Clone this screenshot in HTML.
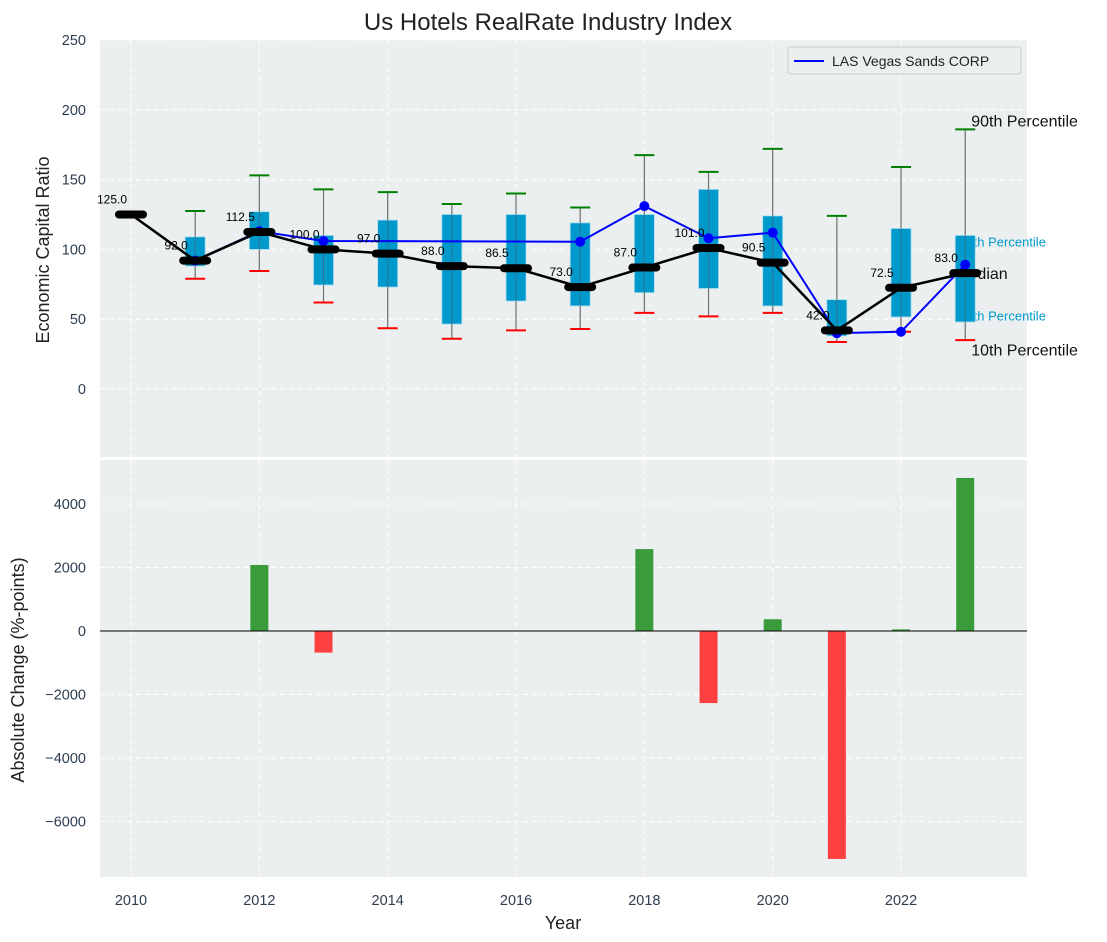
<!DOCTYPE html>
<html><head><meta charset="utf-8"><style>
body{margin:0;background:#fff;}
svg{display:block;font-family:"Liberation Sans","DejaVu Sans",sans-serif;}
</style></head><body>
<svg id="c" width="1107" height="942" xmlns="http://www.w3.org/2000/svg"></svg>
<script>
const years=[2010,2011,2012,2013,2014,2015,2016,2017,2018,2019,2020,2021,2022,2023];
const medians=[125,92,112.5,100,97,88,86.5,73,87,101,90.5,42,72.5,83];
const boxHigh=[null,109,127,110,121,125,125,119,125,143,124,64,115,110];
const boxLow=[null,88,100,74.5,73,46.5,63,59.5,69,72,59.5,38,51.6,48];
const whiskHigh=[null,127.5,153,143,141,132.5,140,130,167.5,155.5,172,124,159,186];
const whiskLow=[null,79,84.5,62,43.5,36,42,43,54.5,52,54.5,33.7,41,35];
const lvsYears=[2011,2012,2013,2017,2018,2019,2020,2021,2022,2023];
const lvsValues=[92,113,106,105.5,131,108,112,40,41,89];
const changeYears=[2012,2013,2018,2019,2020,2021,2022,2023];
const changeValues=[2080,-680,2580,-2270,370,-7180,50,4820];
const topTicks=[0,50,100,150,200,250];
const botTicks=[-6000,-4000,-2000,0,2000,4000];
const xTicks=[2010,2012,2014,2016,2018,2020,2022];

const svg=document.getElementById('c');
const NS='http://www.w3.org/2000/svg';
function el(t,a,p){const e=document.createElementNS(NS,t);for(const k in a)e.setAttribute(k,a[k]);(p||svg).appendChild(e);return e;}
const L=100,R=1027,T1=40,B1=457,T2=460,B2=877;
const X=v=>131+(v-2010)*64.17;
const Y1=v=>389-v*1.396;
const Y2=v=>631-v*0.03175;

let t=el('text',{x:548,y:30,'text-anchor':'middle','font-size':24,fill:'#222'});t.textContent='Us Hotels RealRate Industry Index';


let p1=el('rect',{x:L,y:T1,width:R-L,height:B1-T1,fill:'#ebeff0'});

let p2=el('rect',{x:L,y:T2,width:R-L,height:B2-T2,fill:'#ebeff0'});


xTicks.forEach(v=>{
  let g=el('line',{x1:X(v),x2:X(v),y1:T1,y2:B1,stroke:'#fff','stroke-dasharray':'5,4'});
  
  g=el('line',{x1:X(v),x2:X(v),y1:T2,y2:B2,stroke:'#fff','stroke-dasharray':'5,4'});
  
  let tx=el('text',{x:X(v),y:905,'text-anchor':'middle','font-size':14.5,fill:'#2d3e50'});tx.textContent=v;
  
});
topTicks.forEach(v=>{
  let g=el('line',{x1:L,x2:R,y1:Y1(v),y2:Y1(v),stroke:'#fff','stroke-dasharray':'5,4'});
  
  let tx=el('text',{x:86,y:Y1(v)+5,'text-anchor':'end','font-size':14.5,fill:'#2d3e50'});tx.textContent=v;
  
});
botTicks.forEach(v=>{
  let g=el('line',{x1:L,x2:R,y1:Y2(v),y2:Y2(v),stroke:'#fff','stroke-dasharray':'5,4'});
  
  let tx=el('text',{x:86,y:Y2(v)+5,'text-anchor':'end','font-size':14.5,fill:'#2d3e50'});tx.textContent=(v<0?'\u2212'+(-v):v);
  
});

t=el('text',{x:49,y:250,'text-anchor':'middle','font-size':18,fill:'#222',transform:'rotate(-90 49 250)'});t.textContent='Economic Capital Ratio';

t=el('text',{x:24,y:670,'text-anchor':'middle','font-size':18,fill:'#222',transform:'rotate(-90 24 670)'});t.textContent='Absolute Change (%-points)';

t=el('text',{x:563,y:929,'text-anchor':'middle','font-size':18,fill:'#222'});t.textContent='Year';


const ax=X(2023);
t=el('text',{x:ax-6,y:Y1(105)+4,'font-size':13,fill:'#0099cc'});t.textContent='75th Percentile';

t=el('text',{x:ax-6,y:Y1(52)+4,'font-size':13,fill:'#0099cc'});t.textContent='25th Percentile';

t=el('text',{x:ax-10,y:Y1(83)+6,'font-size':16,fill:'#111'});t.textContent='Median';

t=el('text',{x:ax+6,y:Y1(193)+7,'font-size':16,fill:'#111'});t.textContent='90th Percentile';

t=el('text',{x:ax+6,y:Y1(29)+7,'font-size':16,fill:'#111'});t.textContent='10th Percentile';


years.forEach((yr,i)=>{
  if(boxHigh[i]==null)return;
  const cx=X(yr);
  let w=el('line',{x1:cx,x2:cx,y1:Y1(whiskHigh[i]),y2:Y1(whiskLow[i]),stroke:'#888','stroke-width':1.2});
  
  let b=el('rect',{x:cx-10,y:Y1(boxHigh[i]),width:20,height:Y1(boxLow[i])-Y1(boxHigh[i]),fill:'#0099cc',stroke:'#a8dcee','stroke-width':0.8});
  
  w=el('line',{x1:cx,x2:cx,y1:Y1(whiskHigh[i]),y2:Y1(whiskLow[i]),stroke:'#555','stroke-opacity':0.5,'stroke-width':1});
  
  let c=el('line',{x1:cx-10,x2:cx+10,y1:Y1(whiskHigh[i]),y2:Y1(whiskHigh[i]),stroke:'green','stroke-width':2});
  
  c=el('line',{x1:cx-10,x2:cx+10,y1:Y1(whiskLow[i]),y2:Y1(whiskLow[i]),stroke:'red','stroke-width':2});
  
});

let pl=el('polyline',{points:lvsYears.map((y,i)=>X(y)+','+Y1(lvsValues[i])).join(' '),fill:'none',stroke:'blue','stroke-width':2});

lvsYears.forEach((y,i)=>{
  let d=el('circle',{cx:X(y),cy:Y1(lvsValues[i]),r:5,fill:'blue'});
  
});

pl=el('polyline',{points:years.map((y,i)=>X(y)+','+Y1(medians[i])).join(' '),fill:'none',stroke:'#000','stroke-width':2.5});

years.forEach((y,i)=>{
  let m=el('line',{x1:X(y)-12,x2:X(y)+12,y1:Y1(medians[i]),y2:Y1(medians[i]),stroke:'#000','stroke-width':8,'stroke-linecap':'round'});
  
  let lb=el('text',{x:X(y)-19,y:Y1(medians[i])-11,'text-anchor':'middle','font-size':12,fill:'#000'});lb.textContent=medians[i].toFixed(1);
  
});

let lg=el('g',{});
el('rect',{x:788,y:47,width:233,height:27,rx:3,fill:'#ebeff0',stroke:'#ccc'},lg);
el('line',{x1:794,x2:824,y1:61,y2:61,stroke:'blue','stroke-width':2},lg);
t=el('text',{x:832,y:66,'font-size':14,fill:'#222'},lg);t.textContent='LAS Vegas Sands CORP';


changeYears.forEach((y,i)=>{
  const v=changeValues[i];
  let b=el('rect',{x:X(y)-9,y:Math.min(Y2(0),Y2(v)),width:18,height:Math.abs(Y2(v)-Y2(0)),fill:v>=0?'#3a9b3a':'#ff4040'});
  
});
let z=el('line',{x1:L,x2:R,y1:Y2(0),y2:Y2(0),stroke:'#000','stroke-width':1});

</script>
</body></html>
